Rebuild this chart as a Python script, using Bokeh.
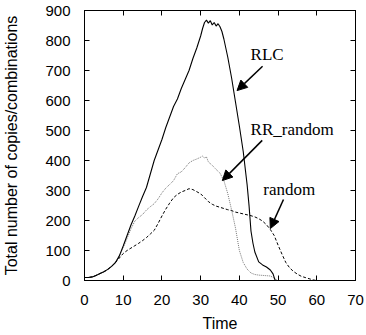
from bokeh.plotting import figure
from bokeh.models import (Range1d, LinearAxis, SingleIntervalTicker, Label, Arrow, NormalHead)
from bokeh.embed import file_html
from bokeh.resources import INLINE

# ---- data ----
rlc_t = [0, 1, 2, 3, 4, 5, 6, 7, 8, 9, 10, 11, 12, 13, 14, 15, 16, 17, 18, 19, 20,
         21, 22, 23, 24, 25, 26, 27, 28, 29, 30, 30.5, 31, 31.5, 32, 32.5, 33, 33.5,
         34, 34.5, 35, 35.5, 36, 37, 38, 39, 40, 41, 42, 42.5, 43, 43.5, 44, 45, 46,
         47, 48, 48.7, 49.2, 49.5]
rlc_v = [10, 10, 12, 17, 23, 29, 37, 47, 60, 82, 115, 150, 185, 215, 248, 280, 310,
         355, 400, 435, 470, 510, 545, 580, 605, 640, 670, 700, 740, 775, 815, 840,
         860, 868, 858, 866, 852, 860, 848, 856, 846, 830, 805, 745, 675, 595, 515,
         430, 320, 250, 165, 125, 95, 62, 52, 45, 35, 22, 2, 0]

rr_t = [0, 1, 2, 3, 4, 5, 6, 7, 8, 9, 10, 11, 12, 13, 14, 15, 16, 17, 18, 19, 20, 21,
        22, 23, 24, 25, 26, 27, 28, 29, 30, 30.5, 31, 31.5, 32, 33, 34, 35, 36, 37,
        38, 39, 40, 41, 42, 43, 44, 45, 46, 47, 48, 49, 49.8]
rr_v = [10, 10, 12, 17, 23, 29, 37, 47, 60, 82, 110, 140, 172, 198, 210, 220, 235,
        246, 256, 272, 292, 308, 320, 333, 356, 362, 376, 392, 400, 405, 411, 415,
        408, 412, 395, 384, 370, 358, 333, 290, 235, 175, 100, 60, 38, 25, 20, 18,
        17, 16, 15, 8, 0]

rnd_t = [0, 1, 2, 3, 4, 5, 6, 7, 8, 9, 10, 11, 12, 13, 14, 15, 16, 17, 18, 19, 20,
         21, 22, 23, 24, 25, 26, 27, 28, 29, 30, 31, 32, 33, 34, 35, 36, 37, 38, 39,
         40, 41, 42, 43, 44, 45, 46, 47, 48, 49, 50, 51, 52, 53, 54, 55, 56, 57, 58,
         59, 60]
rnd_v = [10, 10, 12, 17, 23, 29, 37, 47, 60, 75, 90, 100, 108, 116, 124, 133, 143,
         155, 167, 190, 215, 238, 258, 276, 287, 295, 300, 306, 303, 296, 289, 276,
         263, 254, 248, 244, 240, 236, 233, 228, 225, 222, 219, 216, 212, 206, 198,
         186, 170, 150, 118, 88, 60, 42, 30, 21, 14, 10, 6, 2, 0]

x_ticks_interval = 10
y_ticks_interval = 100

# annotation labels: (text, x, y) and arrows (x_start, y_start, x_end, y_end)
ann_text = ["RLC", "RR_random", "random"]
ann_x = [42.9, 42.9, 46.2]
ann_y = [755, 502, 305]
arr_x0 = [46.0, 45.9, 51.4]
arr_y0 = [714, 467, 270]
arr_x1 = [39.4, 35.6, 48.0]
arr_y1 = [633, 333, 173]

# ---- figure ----
p = figure(frame_width=271, frame_height=270, output_backend="svg",
           toolbar_location=None, x_range=Range1d(0, 70), y_range=Range1d(0, 900),
           min_border_left=84, min_border_right=9, min_border_top=10,
           min_border_bottom=52)
p.background_fill_color = "white"
p.border_fill_color = "white"
p.outline_line_color = "black"
p.outline_line_width = 1
p.xgrid.visible = False
p.ygrid.visible = False

tick_font = "Liberation Sans"
for ax, interval in ((p.xaxis[0], x_ticks_interval), (p.yaxis[0], y_ticks_interval)):
    ax.ticker = SingleIntervalTicker(interval=interval)
    ax.major_tick_in = 5
    ax.major_tick_out = 0
    ax.minor_tick_line_color = None
    ax.major_label_text_font = tick_font
    ax.major_label_text_font_size = "15px"
    ax.major_label_text_color = "black"
    ax.axis_label_text_font = tick_font
    ax.axis_label_text_font_size = "16px"
    ax.axis_label_text_font_style = "normal"
    ax.axis_label_text_color = "black"
    ax.axis_line_color = "black"

p.xaxis.axis_label = "Time"
p.yaxis.axis_label = "Total number of copies/combinations"
p.xaxis.major_label_standoff = 10
p.yaxis.major_label_standoff = 10
p.xaxis.axis_label_standoff = 7
p.yaxis.axis_label_standoff = 22

top_ax = LinearAxis(ticker=SingleIntervalTicker(interval=x_ticks_interval),
                    major_tick_in=5, major_tick_out=0, minor_tick_line_color=None,
                    major_label_text_font_size="1px", major_label_text_color=None,
                    major_label_standoff=0)
right_ax = LinearAxis(ticker=SingleIntervalTicker(interval=y_ticks_interval),
                      major_tick_in=5, major_tick_out=0, minor_tick_line_color=None,
                      major_label_text_font_size="1px", major_label_text_color=None,
                      major_label_standoff=0)
p.add_layout(top_ax, "above")
p.add_layout(right_ax, "right")

p.line(rr_t, rr_v, line_color="#777777", line_width=1, line_dash="1 1")
p.line(rnd_t, rnd_v, line_color="black", line_width=1, line_dash="3 2")
p.line(rlc_t, rlc_v, line_color="black", line_width=1.1)

for txt, x, y in zip(ann_text, ann_x, ann_y):
    p.add_layout(Label(x=x, y=y, text=txt, text_font="Liberation Serif",
                       text_font_size="17px", text_color="black",
                       text_baseline="alphabetic", text_align="left"))

for x0, y0, x1, y1 in zip(arr_x0, arr_y0, arr_x1, arr_y1):
    p.add_layout(Arrow(x_start=x0, y_start=y0, x_end=x1, y_end=y1,
                       line_color="black", line_width=1.5,
                       end=NormalHead(size=10, fill_color="black", line_color="black")))

open("out.html", "w").write(file_html(p, INLINE))
